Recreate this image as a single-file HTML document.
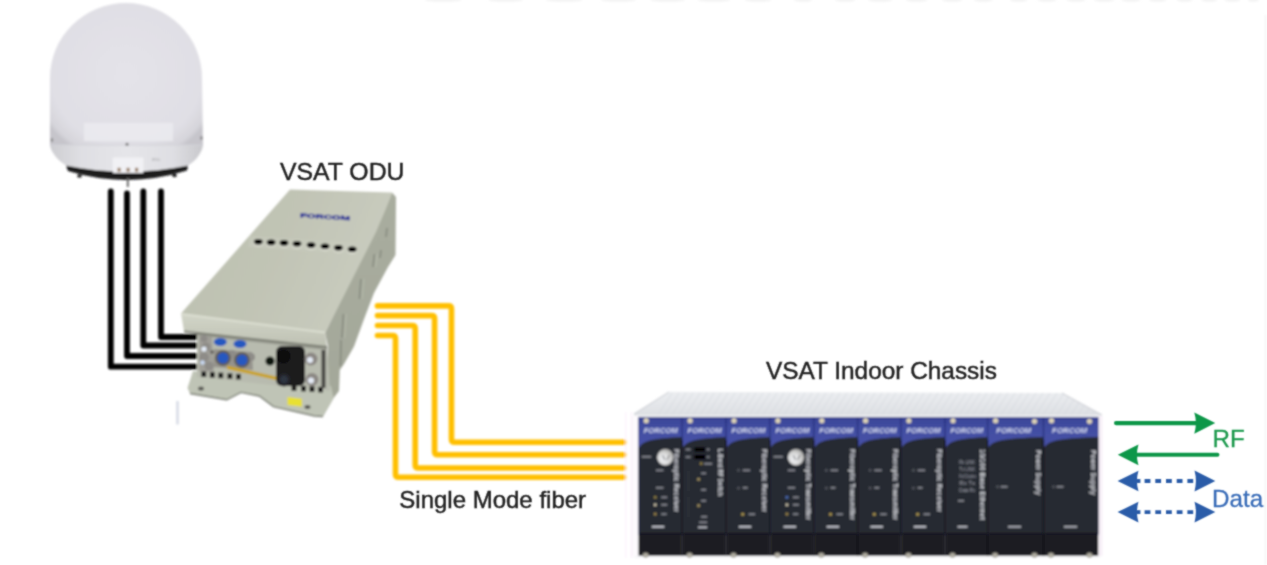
<!DOCTYPE html>
<html><head><meta charset="utf-8"><style>
html,body{margin:0;padding:0;background:#fff;}
body{width:1267px;height:565px;overflow:hidden;font-family:"Liberation Sans",sans-serif;}
svg{display:block;}
</style></head><body>
<svg width="1267" height="565" viewBox="0 0 1267 565">
<defs>
<radialGradient id="domeG" cx="0.5" cy="0.5" r="0.62">
 <stop offset="0" stop-color="#e4e3e9"/>
 <stop offset="0.8" stop-color="#e0dfe5"/>
 <stop offset="0.95" stop-color="#d6d5db"/>
 <stop offset="1" stop-color="#c6c5cb"/>
</radialGradient>
<linearGradient id="bandG" x1="0" y1="0" x2="1" y2="0">
 <stop offset="0" stop-color="#cdcdd1"/>
 <stop offset="0.2" stop-color="#dfdfe3"/>
 <stop offset="0.5" stop-color="#e5e5e9"/>
 <stop offset="0.8" stop-color="#dfdfe3"/>
 <stop offset="1" stop-color="#c8c8cc"/>
</linearGradient>
<linearGradient id="silverG" x1="0" y1="0" x2="0" y2="1">
 <stop offset="0" stop-color="#eceef1"/>
 <stop offset="1" stop-color="#dcdee2"/>
</linearGradient>
<linearGradient id="blueG" x1="0" y1="0" x2="0" y2="1">
 <stop offset="0" stop-color="#394496"/>
 <stop offset="0.3" stop-color="#424ea2"/>
 <stop offset="1" stop-color="#4852a8"/>
</linearGradient>
<linearGradient id="odT" x1="0" y1="0.3" x2="1" y2="0.6">
 <stop offset="0" stop-color="#bdc1b1"/>
 <stop offset="0.45" stop-color="#c1c4b5"/>
 <stop offset="1" stop-color="#cacdc0"/>
</linearGradient>
<linearGradient id="odR" x1="0" y1="0" x2="0" y2="1">
 <stop offset="0" stop-color="#a9ad9f"/>
 <stop offset="1" stop-color="#a3a799"/>
</linearGradient>
<linearGradient id="lidF" x1="0" y1="0" x2="0" y2="1">
 <stop offset="0" stop-color="#d2d5c8"/>
 <stop offset="1" stop-color="#bec1b3"/>
</linearGradient>
<clipPath id="topClip"><path d="M669,391.7 L1062,393 L1102,415 L1102,417 L634,417 L634,413.7 Z"/></clipPath>
<radialGradient id="knobG" cx="0.4" cy="0.6" r="0.6">
 <stop offset="0" stop-color="#f4f6fa"/>
 <stop offset="0.6" stop-color="#d8d8d8"/>
 <stop offset="1" stop-color="#a8a8a6"/>
</radialGradient>
<filter id="soft" x="0" y="0" width="100%" height="100%" filterUnits="userSpaceOnUse"><feConvolveMatrix order="3" kernelMatrix="1 2 1 2 8 2 1 2 1" divisor="20" edgeMode="none"/></filter>
<filter id="soft2" x="0" y="0" width="100%" height="100%" filterUnits="userSpaceOnUse"><feGaussianBlur stdDeviation="0.8"/></filter>
</defs>
<rect width="1267" height="565" fill="#fff"/>
<g filter="url(#soft2)">
<ellipse cx="443.1" cy="0" rx="18.5" ry="1.8" fill="#f3f3f3"/>
<ellipse cx="505.65" cy="0" rx="17.450000000000017" ry="1.8" fill="#f3f3f3"/>
<ellipse cx="564.1500000000001" cy="0" rx="18.44999999999999" ry="1.8" fill="#f3f3f3"/>
<ellipse cx="618.5" cy="0" rx="17.5" ry="1.8" fill="#f3f3f3"/>
<ellipse cx="667.75" cy="0" rx="17.450000000000045" ry="1.8" fill="#f3f3f3"/>
<ellipse cx="713.9" cy="0" rx="16.399999999999977" ry="1.8" fill="#f3f3f3"/>
<ellipse cx="758.05" cy="0" rx="13.349999999999966" ry="1.8" fill="#f3f3f3"/>
<ellipse cx="803.2" cy="0" rx="9.199999999999989" ry="1.8" fill="#f3f3f3"/>
<ellipse cx="845.25" cy="0" rx="10.25" ry="1.8" fill="#f3f3f3"/>
<ellipse cx="880.0999999999999" cy="0" rx="12.300000000000011" ry="1.8" fill="#f3f3f3"/>
<ellipse cx="916.65" cy="0" rx="10.850000000000023" ry="1.8" fill="#f3f3f3"/>
<ellipse cx="952.15" cy="0" rx="10.149999999999977" ry="1.8" fill="#f3f3f3"/>
<ellipse cx="983.3" cy="0" rx="9.400000000000034" ry="1.8" fill="#f3f3f3"/>
<ellipse cx="1018.75" cy="0" rx="8.75" ry="1.8" fill="#f3f3f3"/>
<ellipse cx="1047.0" cy="0" rx="9.400000000000091" ry="1.8" fill="#f3f3f3"/>
<ellipse cx="1076.0" cy="0" rx="9.400000000000091" ry="1.8" fill="#f3f3f3"/>
<ellipse cx="1104.2" cy="0" rx="10.200000000000045" ry="1.8" fill="#f3f3f3"/>
<ellipse cx="1131.0" cy="0" rx="9.400000000000091" ry="1.8" fill="#f3f3f3"/>
<ellipse cx="1157.75" cy="0" rx="8.75" ry="1.8" fill="#f3f3f3"/>
<ellipse cx="1184.65" cy="0" rx="7.949999999999932" ry="1.8" fill="#f3f3f3"/>
<ellipse cx="1209.25" cy="0" rx="7.9500000000000455" ry="1.8" fill="#f3f3f3"/>
<ellipse cx="1232.45" cy="0" rx="7.9500000000000455" ry="1.8" fill="#f3f3f3"/>
<ellipse cx="1253.3" cy="0" rx="5.7000000000000455" ry="1.8" fill="#f3f3f3"/>
<line x1="1265.6" y1="15" x2="1265.6" y2="565" stroke="#efefef" stroke-width="1"/>
<line x1="177.5" y1="401" x2="177.5" y2="424.5" stroke="#d8dce6" stroke-width="2.6"/>
<path d="M50,146 L50,78 A76,75 0 0 1 202,78 L203,146 Z" fill="url(#domeG)"/>
<path d="M50,145 L203,145 C202,152 197,160 188,165.5 Q127,178 66,165.5 C57,160 51,152 50,145 Z" fill="url(#bandG)"/>
<path d="M51,145 L202,145" stroke="#d2d2d8" stroke-width="1"/>
<rect x="84" y="123" width="89" height="18" fill="#ececf0" opacity="0.75"/>
<path d="M66,165.5 Q127,178 188,165.5 L187,170.5 Q127,189 68,171 Z" fill="#1a1a1c"/>
<ellipse cx="79.5" cy="176" rx="2.4" ry="1.8" fill="#222"/>
<ellipse cx="174.5" cy="175.5" rx="2.4" ry="1.8" fill="#222"/>
<rect x="112.7" y="157.6" width="30.8" height="15.4" rx="1" fill="#f1f1f4"/>
<rect x="117.5" y="167.8" width="3.2" height="4" fill="#9a8068"/>
<rect x="126.5" y="167.8" width="3.2" height="4" fill="#9a8068"/>
<rect x="135.0" y="167.8" width="3.2" height="4" fill="#9a8068"/>
<circle cx="127" cy="144.3" r="1.5" fill="#707070"/>
<ellipse cx="52" cy="140" rx="1.2" ry="2" fill="#888"/>
<ellipse cx="201.4" cy="138" rx="1.2" ry="2" fill="#888"/>
<text x="152" y="160.5" font-family="Liberation Sans" font-size="4" fill="#a0a0a4">IFDL</text>
<rect x="126.8" y="178" width="2" height="9" fill="#6a6a6a"/>
<path d="M110.8,191.5 V366.7 H201" fill="none" stroke="#000" stroke-width="5.8" stroke-linecap="round" stroke-linejoin="round"/>
<path d="M127,193.5 V356 H201" fill="none" stroke="#000" stroke-width="5.8" stroke-linecap="round" stroke-linejoin="round"/>
<path d="M143.3,191.5 V345.5 H201" fill="none" stroke="#000" stroke-width="5.8" stroke-linecap="round" stroke-linejoin="round"/>
<path d="M161,191.5 V337 H201" fill="none" stroke="#000" stroke-width="5.8" stroke-linecap="round" stroke-linejoin="round"/>
<path d="M377.5,305.9 H448.5 Q451.5,305.9 451.5,308.9 V439.3 Q451.5,442.3 454.5,442.3 H624" fill="none" stroke="#ffbf00" stroke-width="5.6" stroke-linecap="round"/>
<path d="M377.5,315.6 H431.6 Q434.6,315.6 434.6,318.6 V451.7 Q434.6,454.7 437.6,454.7 H624" fill="none" stroke="#ffbf00" stroke-width="5.6" stroke-linecap="round"/>
<path d="M377.5,325.5 H412.2 Q415.2,325.5 415.2,328.5 V465 Q415.2,468 418.2,468 H624" fill="none" stroke="#ffbf00" stroke-width="5.6" stroke-linecap="round"/>
<path d="M377.5,335.5 H392.5 Q395.5,335.5 395.5,338.5 V474.2 Q395.5,477.2 398.5,477.2 H624" fill="none" stroke="#ffbf00" stroke-width="5.6" stroke-linecap="round"/>
<path d="M392,192.5 L396,197 L395.5,255 L388,267 L374,293 L363.7,320 L354,346.5 L344,364 L339.8,370 L339,391 L333.6,398 L323,416.5 L316,416 L326,400 L328,346 L325,333 Z" fill="url(#odR)"/>
<path d="M387,228 L386,237 M381,250 L380,258 M374.5,254 L373,267 M361,279 L359.5,299 M343.5,314 L342,338 M341,340 L340.5,366" stroke="#84887c" stroke-width="1.8" fill="none" opacity="0.85"/>
<path d="M377,254 L375.5,267 M363.5,279 L362,299 M346,314 L344.5,338" stroke="#bcc0b2" stroke-width="1" fill="none" opacity="0.8"/>
<path d="M193,371 L331,386 L333.6,398 L323,416.5 L314.5,416 L273.5,406.6 L259.3,396 L241,392.4 L226.7,399.8 L190,393.5 L187.5,388 Z" fill="#bfc4b6"/>
<path d="M190,393.5 L226.7,399.8 L241,392.4 L259.3,396 L273.5,406.6 L314.5,416 L323,416.5" fill="none" stroke="#7a7e74" stroke-width="1.4"/>
<path d="M197,331 L327,345 L330,391 L197,377 Z" fill="#b8bbaf"/>
<path d="M181,313.5 L325,332 L327,346.5 L184,331 Z" fill="url(#lidF)"/>
<path d="M196,334 L327,348.5" stroke="#8a8c82" stroke-width="3" opacity="0.7"/>
<path d="M184,331.5 L327,347" stroke="#7e8076" stroke-width="1.8"/>
<path d="M290,189.5 L392,192.5 C388,205 380,222 376,232 L325,333 L181,313.5 Z" fill="url(#odT)"/>
<path d="M181.5,314 L325,332.5" stroke="#dcdfd2" stroke-width="1.8"/>
<path d="M250,236 L362,243 L358,254 L248,247 Z" fill="#c8ccbe" opacity="0.6"/>
<ellipse cx="258.3" cy="243.29999999999998" rx="5.2" ry="3.6" fill="#d4d6ca"/>
<ellipse cx="258.3" cy="241.7" rx="4.4" ry="2.8" fill="#060606"/>
<ellipse cx="271.1" cy="244.0" rx="5.2" ry="3.6" fill="#d4d6ca"/>
<ellipse cx="271.1" cy="242.4" rx="4.4" ry="2.8" fill="#060606"/>
<ellipse cx="284" cy="244.5" rx="5.2" ry="3.6" fill="#d4d6ca"/>
<ellipse cx="284" cy="242.9" rx="4.4" ry="2.8" fill="#060606"/>
<ellipse cx="297" cy="245.4" rx="5.2" ry="3.6" fill="#d4d6ca"/>
<ellipse cx="297" cy="243.8" rx="4.4" ry="2.8" fill="#060606"/>
<ellipse cx="311.1" cy="246.7" rx="5.2" ry="3.6" fill="#d4d6ca"/>
<ellipse cx="311.1" cy="245.1" rx="4.4" ry="2.8" fill="#060606"/>
<ellipse cx="325" cy="247.79999999999998" rx="5.2" ry="3.6" fill="#d4d6ca"/>
<ellipse cx="325" cy="246.2" rx="4.4" ry="2.8" fill="#060606"/>
<ellipse cx="338.4" cy="249.4" rx="5.2" ry="3.6" fill="#d4d6ca"/>
<ellipse cx="338.4" cy="247.8" rx="4.4" ry="2.8" fill="#060606"/>
<ellipse cx="352.2" cy="250.79999999999998" rx="5.2" ry="3.6" fill="#d4d6ca"/>
<ellipse cx="352.2" cy="249.2" rx="4.4" ry="2.8" fill="#060606"/>
<text x="300" y="217.3" font-family="Liberation Sans" font-weight="bold" font-size="5.8" fill="#262e96" stroke="#262e96" stroke-width="0.35" transform="rotate(3.5 300 217.3)" textLength="50" lengthAdjust="spacingAndGlyphs">FORCOM</text>
<path d="M214,349 L252,352 L253,370 L213,367 Z" fill="#8e8c86" opacity="0.85"/>
<path d="M199,336 L212,337 L214,372 L199,371 Z" fill="#9a9892" opacity="0.8"/>
<ellipse cx="220.3" cy="342" rx="6.5" ry="4" fill="#2658c0"/>
<ellipse cx="240" cy="344" rx="6.5" ry="4" fill="#2658c0"/>
<circle cx="204" cy="338.5" r="3.5" fill="#8e8c88"/>
<circle cx="206" cy="347" r="4.5" fill="#8e8c88"/>
<circle cx="204" cy="357.5" r="5" fill="#8e8c88"/>
<circle cx="209" cy="366" r="4.5" fill="#8e8c88"/>
<circle cx="232" cy="354" r="4" fill="#8e8c88"/>
<circle cx="251" cy="357" r="4" fill="#8e8c88"/>
<circle cx="204" cy="349" r="2.6" fill="#e4ecf8"/>
<circle cx="202.5" cy="362.5" r="2.2" fill="#c8d8f0"/>
<circle cx="212" cy="352" r="2" fill="#6a6862"/>
<circle cx="223" cy="358" r="7.8" fill="#5e5c56"/>
<circle cx="223" cy="358" r="5.6" fill="#2658c0"/>
<circle cx="242" cy="360" r="7.8" fill="#5e5c56"/>
<circle cx="242" cy="360" r="5.6" fill="#2658c0"/>
<path d="M227,365.5 L276,376.5 L276,380 L227,369 Z" fill="#c9a326"/>
<rect x="201.4" y="371.5" width="4.8" height="5.5" fill="#151515"/>
<rect x="209.9" y="372.095" width="4.8" height="5.5" fill="#151515"/>
<rect x="218.4" y="372.69" width="4.8" height="5.5" fill="#151515"/>
<rect x="227.5" y="373.327" width="4.8" height="5.5" fill="#151515"/>
<rect x="236.0" y="373.922" width="4.8" height="5.5" fill="#151515"/>
<rect x="291.6" y="385.3" width="4.8" height="5.5" fill="#151515"/>
<rect x="301.20000000000005" y="385.87600000000003" width="4.8" height="5.5" fill="#151515"/>
<rect x="309.6" y="386.38" width="4.8" height="5.5" fill="#151515"/>
<rect x="318.20000000000005" y="386.896" width="4.8" height="5.5" fill="#151515"/>
<circle cx="270" cy="361" r="4.6" fill="#0c140e"/>
<rect x="276" y="346" width="29" height="40" rx="6" fill="#1a1a1c"/>
<circle cx="283.5" cy="356.5" r="7" fill="#0e0e10"/>
<circle cx="284" cy="379.5" r="7" fill="#202226"/>
<circle cx="284" cy="379.5" r="4" fill="#2e3440"/>
<circle cx="311" cy="359" r="6.5" fill="#8c8884"/>
<circle cx="310" cy="360" r="3" fill="#e4eaf4"/>
<circle cx="312" cy="379.5" r="6.5" fill="#8c8884"/>
<circle cx="311" cy="380.5" r="3" fill="#e4eaf4"/>
<rect x="321.5" y="350" width="4" height="38" fill="#4a4844"/>
<ellipse cx="201" cy="388.5" rx="3" ry="2" fill="#5a5a54"/>
<ellipse cx="307.5" cy="407" rx="3" ry="2" fill="#5a5a54"/>
<path d="M287.5,397 L301.8,398.8 L301.8,406.8 L287.5,405 Z" fill="#e8e030"/>
<path d="M669,391.7 L1062,393 L1102,415 L1102,417 L634,417 L634,413.7 Z" fill="url(#silverG)"/>
<g clip-path="url(#topClip)">
<line x1="672" y1="393" x2="658" y2="415" stroke="#d6d9de" stroke-width="0.8"/>
<line x1="679" y1="393" x2="665" y2="415" stroke="#d6d9de" stroke-width="0.8"/>
<line x1="686" y1="393" x2="672" y2="415" stroke="#d6d9de" stroke-width="0.8"/>
<line x1="693" y1="393" x2="679" y2="415" stroke="#d6d9de" stroke-width="0.8"/>
<line x1="700" y1="393" x2="686" y2="415" stroke="#d6d9de" stroke-width="0.8"/>
<line x1="707" y1="393" x2="693" y2="415" stroke="#d6d9de" stroke-width="0.8"/>
<line x1="714" y1="393" x2="700" y2="415" stroke="#d6d9de" stroke-width="0.8"/>
<line x1="721" y1="393" x2="707" y2="415" stroke="#d6d9de" stroke-width="0.8"/>
<line x1="728" y1="393" x2="714" y2="415" stroke="#d6d9de" stroke-width="0.8"/>
<line x1="735" y1="393" x2="721" y2="415" stroke="#d6d9de" stroke-width="0.8"/>
<line x1="742" y1="393" x2="728" y2="415" stroke="#d6d9de" stroke-width="0.8"/>
<line x1="749" y1="393" x2="735" y2="415" stroke="#d6d9de" stroke-width="0.8"/>
<line x1="756" y1="393" x2="742" y2="415" stroke="#d6d9de" stroke-width="0.8"/>
<line x1="763" y1="393" x2="749" y2="415" stroke="#d6d9de" stroke-width="0.8"/>
<line x1="770" y1="393" x2="756" y2="415" stroke="#d6d9de" stroke-width="0.8"/>
<line x1="777" y1="393" x2="763" y2="415" stroke="#d6d9de" stroke-width="0.8"/>
<line x1="784" y1="393" x2="770" y2="415" stroke="#d6d9de" stroke-width="0.8"/>
<line x1="791" y1="393" x2="777" y2="415" stroke="#d6d9de" stroke-width="0.8"/>
<line x1="798" y1="393" x2="784" y2="415" stroke="#d6d9de" stroke-width="0.8"/>
<line x1="805" y1="393" x2="791" y2="415" stroke="#d6d9de" stroke-width="0.8"/>
<line x1="812" y1="393" x2="798" y2="415" stroke="#d6d9de" stroke-width="0.8"/>
<line x1="819" y1="393" x2="805" y2="415" stroke="#d6d9de" stroke-width="0.8"/>
<line x1="826" y1="393" x2="812" y2="415" stroke="#d6d9de" stroke-width="0.8"/>
<line x1="833" y1="393" x2="819" y2="415" stroke="#d6d9de" stroke-width="0.8"/>
<line x1="840" y1="393" x2="826" y2="415" stroke="#d6d9de" stroke-width="0.8"/>
<line x1="847" y1="393" x2="833" y2="415" stroke="#d6d9de" stroke-width="0.8"/>
<line x1="854" y1="393" x2="840" y2="415" stroke="#d6d9de" stroke-width="0.8"/>
<line x1="861" y1="393" x2="847" y2="415" stroke="#d6d9de" stroke-width="0.8"/>
<line x1="868" y1="393" x2="854" y2="415" stroke="#d6d9de" stroke-width="0.8"/>
<line x1="875" y1="393" x2="861" y2="415" stroke="#d6d9de" stroke-width="0.8"/>
<line x1="882" y1="393" x2="868" y2="415" stroke="#d6d9de" stroke-width="0.8"/>
<line x1="889" y1="393" x2="875" y2="415" stroke="#d6d9de" stroke-width="0.8"/>
<line x1="896" y1="393" x2="882" y2="415" stroke="#d6d9de" stroke-width="0.8"/>
<line x1="903" y1="393" x2="889" y2="415" stroke="#d6d9de" stroke-width="0.8"/>
<line x1="910" y1="393" x2="896" y2="415" stroke="#d6d9de" stroke-width="0.8"/>
<line x1="917" y1="393" x2="903" y2="415" stroke="#d6d9de" stroke-width="0.8"/>
<line x1="924" y1="393" x2="910" y2="415" stroke="#d6d9de" stroke-width="0.8"/>
<line x1="931" y1="393" x2="917" y2="415" stroke="#d6d9de" stroke-width="0.8"/>
<line x1="938" y1="393" x2="924" y2="415" stroke="#d6d9de" stroke-width="0.8"/>
<line x1="945" y1="393" x2="931" y2="415" stroke="#d6d9de" stroke-width="0.8"/>
<line x1="952" y1="393" x2="938" y2="415" stroke="#d6d9de" stroke-width="0.8"/>
<line x1="959" y1="393" x2="945" y2="415" stroke="#d6d9de" stroke-width="0.8"/>
<line x1="966" y1="393" x2="952" y2="415" stroke="#d6d9de" stroke-width="0.8"/>
<line x1="973" y1="393" x2="959" y2="415" stroke="#d6d9de" stroke-width="0.8"/>
<line x1="980" y1="393" x2="966" y2="415" stroke="#d6d9de" stroke-width="0.8"/>
<line x1="987" y1="393" x2="973" y2="415" stroke="#d6d9de" stroke-width="0.8"/>
<line x1="994" y1="393" x2="980" y2="415" stroke="#d6d9de" stroke-width="0.8"/>
<line x1="1001" y1="393" x2="987" y2="415" stroke="#d6d9de" stroke-width="0.8"/>
<line x1="1008" y1="393" x2="994" y2="415" stroke="#d6d9de" stroke-width="0.8"/>
<line x1="1015" y1="393" x2="1001" y2="415" stroke="#d6d9de" stroke-width="0.8"/>
<line x1="1022" y1="393" x2="1008" y2="415" stroke="#d6d9de" stroke-width="0.8"/>
<line x1="1029" y1="393" x2="1015" y2="415" stroke="#d6d9de" stroke-width="0.8"/>
<line x1="1036" y1="393" x2="1022" y2="415" stroke="#d6d9de" stroke-width="0.8"/>
<line x1="1043" y1="393" x2="1029" y2="415" stroke="#d6d9de" stroke-width="0.8"/>
<line x1="1050" y1="393" x2="1036" y2="415" stroke="#d6d9de" stroke-width="0.8"/>
<line x1="1057" y1="393" x2="1043" y2="415" stroke="#d6d9de" stroke-width="0.8"/>
<line x1="1064" y1="393" x2="1050" y2="415" stroke="#d6d9de" stroke-width="0.8"/>
<line x1="1071" y1="393" x2="1057" y2="415" stroke="#d6d9de" stroke-width="0.8"/>
<line x1="1078" y1="393" x2="1064" y2="415" stroke="#d6d9de" stroke-width="0.8"/>
<line x1="1085" y1="393" x2="1071" y2="415" stroke="#d6d9de" stroke-width="0.8"/>
<line x1="1092" y1="393" x2="1078" y2="415" stroke="#d6d9de" stroke-width="0.8"/>
<line x1="1099" y1="393" x2="1085" y2="415" stroke="#d6d9de" stroke-width="0.8"/>
<line x1="1106" y1="393" x2="1092" y2="415" stroke="#d6d9de" stroke-width="0.8"/>
<line x1="1113" y1="393" x2="1099" y2="415" stroke="#d6d9de" stroke-width="0.8"/>
<line x1="1120" y1="393" x2="1106" y2="415" stroke="#d6d9de" stroke-width="0.8"/>
</g>
<line x1="634" y1="415.8" x2="1102" y2="415.8" stroke="#f4f5f7" stroke-width="1.2"/>
<line x1="669" y1="392" x2="634" y2="414" stroke="#c8cad0" stroke-width="1"/>
<line x1="1062" y1="393" x2="1102" y2="415" stroke="#c8cad0" stroke-width="1"/>
<rect x="631" y="416" width="7.5" height="140" fill="#fdfafd"/>
<line x1="625.8" y1="412" x2="625.8" y2="558" stroke="#fbeefb" stroke-width="1"/>
<line x1="631.5" y1="412" x2="631.5" y2="558" stroke="#f8eaf8" stroke-width="1"/>
<line x1="634" y1="557" x2="1100" y2="557" stroke="#ececf0" stroke-width="1.2"/>
<rect x="1098.5" y="416" width="4" height="140" fill="#f8f0f8"/>
<rect x="638.2" y="417" width="460.3" height="118" fill="#202a78"/>
<rect x="638.8000000000001" y="417.3" width="42.699999999999974" height="35" fill="url(#blueG)"/>
<path d="M638.7,448.5 C642.2,440.5 652.2,438.5 682.1,437 L682.1,534 L638.7,534 Z" fill="#262933"/>
<text x="643.7" y="433.2" font-family="Liberation Sans" font-weight="bold" font-style="italic" font-size="6.6" fill="#d4d9f0" textLength="33.9" lengthAdjust="spacingAndGlyphs">FORCOM</text>
<circle cx="646.2" cy="420.7" r="2.6" fill="#ddd3b6"/>
<rect x="638.5" y="534.3" width="43.299999999999976" height="21.4" fill="#1d1e23"/>
<line x1="639.2" y1="533.8" x2="681.1" y2="533.8" stroke="#101115" stroke-width="1.6"/>
<ellipse cx="645.7" cy="555" rx="2.8" ry="2.2" fill="#b4b0a4" stroke="#7a7870" stroke-width="0.6"/>
<rect x="682.7" y="417.3" width="42.699999999999974" height="35" fill="url(#blueG)"/>
<path d="M682.6,448.5 C686.1,440.5 696.1,438.5 726,437 L726,534 L682.6,534 Z" fill="#262933"/>
<text x="687.6" y="433.2" font-family="Liberation Sans" font-weight="bold" font-style="italic" font-size="6.6" fill="#d4d9f0" textLength="33.9" lengthAdjust="spacingAndGlyphs">FORCOM</text>
<circle cx="690.1" cy="420.7" r="2.6" fill="#ddd3b6"/>
<rect x="682.4" y="534.3" width="43.299999999999976" height="21.4" fill="#1d1e23"/>
<line x1="683.1" y1="533.8" x2="725" y2="533.8" stroke="#101115" stroke-width="1.6"/>
<ellipse cx="689.6" cy="555" rx="2.8" ry="2.2" fill="#b4b0a4" stroke="#7a7870" stroke-width="0.6"/>
<rect x="726.6" y="417.3" width="42.699999999999974" height="35" fill="url(#blueG)"/>
<path d="M726.5,448.5 C730,440.5 740,438.5 769.9,437 L769.9,534 L726.5,534 Z" fill="#262933"/>
<text x="731.5" y="433.2" font-family="Liberation Sans" font-weight="bold" font-style="italic" font-size="6.6" fill="#d4d9f0" textLength="33.9" lengthAdjust="spacingAndGlyphs">FORCOM</text>
<circle cx="734" cy="420.7" r="2.6" fill="#ddd3b6"/>
<rect x="726.3" y="534.3" width="43.299999999999976" height="21.4" fill="#1d1e23"/>
<line x1="727" y1="533.8" x2="768.9" y2="533.8" stroke="#101115" stroke-width="1.6"/>
<ellipse cx="733.5" cy="555" rx="2.8" ry="2.2" fill="#b4b0a4" stroke="#7a7870" stroke-width="0.6"/>
<rect x="770.5" y="417.3" width="42.699999999999974" height="35" fill="url(#blueG)"/>
<path d="M770.4,448.5 C773.9,440.5 783.9,438.5 813.8,437 L813.8,534 L770.4,534 Z" fill="#262933"/>
<text x="775.4" y="433.2" font-family="Liberation Sans" font-weight="bold" font-style="italic" font-size="6.6" fill="#d4d9f0" textLength="33.9" lengthAdjust="spacingAndGlyphs">FORCOM</text>
<circle cx="777.9" cy="420.7" r="2.6" fill="#ddd3b6"/>
<rect x="770.1999999999999" y="534.3" width="43.299999999999976" height="21.4" fill="#1d1e23"/>
<line x1="770.9" y1="533.8" x2="812.8" y2="533.8" stroke="#101115" stroke-width="1.6"/>
<ellipse cx="777.4" cy="555" rx="2.8" ry="2.2" fill="#b4b0a4" stroke="#7a7870" stroke-width="0.6"/>
<rect x="814.4" y="417.3" width="42.600000000000065" height="35" fill="url(#blueG)"/>
<path d="M814.3,448.5 C817.8,440.5 827.8,438.5 857.6,437 L857.6,534 L814.3,534 Z" fill="#262933"/>
<text x="819.3" y="433.2" font-family="Liberation Sans" font-weight="bold" font-style="italic" font-size="6.6" fill="#d4d9f0" textLength="33.8" lengthAdjust="spacingAndGlyphs">FORCOM</text>
<circle cx="821.8" cy="420.7" r="2.6" fill="#ddd3b6"/>
<rect x="814.0999999999999" y="534.3" width="43.20000000000007" height="21.4" fill="#1d1e23"/>
<line x1="814.8" y1="533.8" x2="856.6" y2="533.8" stroke="#101115" stroke-width="1.6"/>
<ellipse cx="821.3" cy="555" rx="2.8" ry="2.2" fill="#b4b0a4" stroke="#7a7870" stroke-width="0.6"/>
<rect x="858.2" y="417.3" width="42.09999999999995" height="35" fill="url(#blueG)"/>
<path d="M858.1,448.5 C861.6,440.5 871.6,438.5 900.9,437 L900.9,534 L858.1,534 Z" fill="#262933"/>
<text x="863.1" y="433.2" font-family="Liberation Sans" font-weight="bold" font-style="italic" font-size="6.6" fill="#d4d9f0" textLength="33.3" lengthAdjust="spacingAndGlyphs">FORCOM</text>
<circle cx="865.6" cy="420.7" r="2.6" fill="#ddd3b6"/>
<rect x="857.9" y="534.3" width="42.69999999999995" height="21.4" fill="#1d1e23"/>
<line x1="858.6" y1="533.8" x2="899.9" y2="533.8" stroke="#101115" stroke-width="1.6"/>
<ellipse cx="865.1" cy="555" rx="2.8" ry="2.2" fill="#b4b0a4" stroke="#7a7870" stroke-width="0.6"/>
<rect x="901.5" y="417.3" width="42.90000000000002" height="35" fill="url(#blueG)"/>
<path d="M901.4,448.5 C904.9,440.5 914.9,438.5 945,437 L945,534 L901.4,534 Z" fill="#262933"/>
<text x="906.4" y="433.2" font-family="Liberation Sans" font-weight="bold" font-style="italic" font-size="6.6" fill="#d4d9f0" textLength="34.1" lengthAdjust="spacingAndGlyphs">FORCOM</text>
<circle cx="908.9" cy="420.7" r="2.6" fill="#ddd3b6"/>
<rect x="901.1999999999999" y="534.3" width="43.50000000000002" height="21.4" fill="#1d1e23"/>
<line x1="901.9" y1="533.8" x2="944" y2="533.8" stroke="#101115" stroke-width="1.6"/>
<ellipse cx="908.4" cy="555" rx="2.8" ry="2.2" fill="#b4b0a4" stroke="#7a7870" stroke-width="0.6"/>
<rect x="945.6" y="417.3" width="41.40000000000002" height="35" fill="url(#blueG)"/>
<path d="M945.5,448.5 C949,440.5 959,438.5 987.6,437 L987.6,534 L945.5,534 Z" fill="#262933"/>
<text x="950.5" y="433.2" font-family="Liberation Sans" font-weight="bold" font-style="italic" font-size="6.6" fill="#d4d9f0" textLength="32.6" lengthAdjust="spacingAndGlyphs">FORCOM</text>
<circle cx="953" cy="420.7" r="2.6" fill="#ddd3b6"/>
<rect x="945.3" y="534.3" width="42.00000000000002" height="21.4" fill="#1d1e23"/>
<line x1="946" y1="533.8" x2="986.6" y2="533.8" stroke="#101115" stroke-width="1.6"/>
<ellipse cx="952.5" cy="555" rx="2.8" ry="2.2" fill="#b4b0a4" stroke="#7a7870" stroke-width="0.6"/>
<rect x="988.2" y="417.3" width="54.699999999999974" height="35" fill="url(#blueG)"/>
<path d="M988.1,448.5 C991.6,440.5 1001.6,438.5 1043.5,437 L1043.5,534 L988.1,534 Z" fill="#262933"/>
<text x="996.2" y="433.2" font-family="Liberation Sans" font-weight="bold" font-style="italic" font-size="6.6" fill="#d4d9f0" textLength="35.0" lengthAdjust="spacingAndGlyphs">FORCOM</text>
<circle cx="995.6" cy="420.7" r="2.6" fill="#ddd3b6"/>
<circle cx="1034.5" cy="421.3" r="2.6" fill="#ddd3b6"/>
<rect x="987.9" y="534.3" width="55.299999999999976" height="21.4" fill="#1d1e23"/>
<line x1="988.6" y1="533.8" x2="1042.5" y2="533.8" stroke="#101115" stroke-width="1.6"/>
<ellipse cx="995.1" cy="555" rx="2.8" ry="2.2" fill="#b4b0a4" stroke="#7a7870" stroke-width="0.6"/>
<ellipse cx="1034.5" cy="555" rx="2.8" ry="2.2" fill="#b4b0a4" stroke="#7a7870" stroke-width="0.6"/>
<rect x="1044.1" y="417.3" width="53.8" height="35" fill="url(#blueG)"/>
<path d="M1044.0,448.5 C1047.5,440.5 1057.5,438.5 1098.5,437 L1098.5,534 L1044.0,534 Z" fill="#262933"/>
<text x="1052.1" y="433.2" font-family="Liberation Sans" font-weight="bold" font-style="italic" font-size="6.6" fill="#d4d9f0" textLength="35.0" lengthAdjust="spacingAndGlyphs">FORCOM</text>
<circle cx="1051.5" cy="420.7" r="2.6" fill="#ddd3b6"/>
<circle cx="1089.5" cy="421.3" r="2.6" fill="#ddd3b6"/>
<rect x="1043.8" y="534.3" width="54.4" height="21.4" fill="#1d1e23"/>
<line x1="1044.5" y1="533.8" x2="1097.5" y2="533.8" stroke="#101115" stroke-width="1.6"/>
<ellipse cx="1051.0" cy="555" rx="2.8" ry="2.2" fill="#b4b0a4" stroke="#7a7870" stroke-width="0.6"/>
<ellipse cx="1089.5" cy="555" rx="2.8" ry="2.2" fill="#b4b0a4" stroke="#7a7870" stroke-width="0.6"/>
<line x1="682.1" y1="440" x2="682.1" y2="556" stroke="#0e0e12" stroke-width="1.2"/>
<line x1="683.3000000000001" y1="446" x2="683.3000000000001" y2="534" stroke="#2c2d34" stroke-width="0.8"/>
<line x1="726" y1="440" x2="726" y2="556" stroke="#0e0e12" stroke-width="1.2"/>
<line x1="727.2" y1="446" x2="727.2" y2="534" stroke="#2c2d34" stroke-width="0.8"/>
<line x1="769.9" y1="440" x2="769.9" y2="556" stroke="#0e0e12" stroke-width="1.2"/>
<line x1="771.1" y1="446" x2="771.1" y2="534" stroke="#2c2d34" stroke-width="0.8"/>
<line x1="813.8" y1="440" x2="813.8" y2="556" stroke="#0e0e12" stroke-width="1.2"/>
<line x1="815.0" y1="446" x2="815.0" y2="534" stroke="#2c2d34" stroke-width="0.8"/>
<line x1="857.6" y1="440" x2="857.6" y2="556" stroke="#0e0e12" stroke-width="1.2"/>
<line x1="858.8000000000001" y1="446" x2="858.8000000000001" y2="534" stroke="#2c2d34" stroke-width="0.8"/>
<line x1="900.9" y1="440" x2="900.9" y2="556" stroke="#0e0e12" stroke-width="1.2"/>
<line x1="902.1" y1="446" x2="902.1" y2="534" stroke="#2c2d34" stroke-width="0.8"/>
<line x1="945" y1="440" x2="945" y2="556" stroke="#0e0e12" stroke-width="1.2"/>
<line x1="946.2" y1="446" x2="946.2" y2="534" stroke="#2c2d34" stroke-width="0.8"/>
<line x1="987.6" y1="440" x2="987.6" y2="556" stroke="#0e0e12" stroke-width="1.2"/>
<line x1="988.8000000000001" y1="446" x2="988.8000000000001" y2="534" stroke="#2c2d34" stroke-width="0.8"/>
<line x1="1043.5" y1="440" x2="1043.5" y2="556" stroke="#0e0e12" stroke-width="1.2"/>
<line x1="1044.7" y1="446" x2="1044.7" y2="534" stroke="#2c2d34" stroke-width="0.8"/>
<text x="674.2" y="449" transform="rotate(90 674.2 449)" font-family="Liberation Sans" font-weight="bold" font-size="6.6" fill="#dcdde2" textLength="63" lengthAdjust="spacingAndGlyphs">Fiberoptic Receiver</text>
<text x="718.1" y="449" transform="rotate(90 718.1 449)" font-family="Liberation Sans" font-weight="bold" font-size="6.6" fill="#dcdde2" textLength="47" lengthAdjust="spacingAndGlyphs">L-Band RF Switch</text>
<text x="762.0" y="449" transform="rotate(90 762.0 449)" font-family="Liberation Sans" font-weight="bold" font-size="6.6" fill="#dcdde2" textLength="63" lengthAdjust="spacingAndGlyphs">Fiberoptic Receiver</text>
<text x="805.9" y="449" transform="rotate(90 805.9 449)" font-family="Liberation Sans" font-weight="bold" font-size="6.6" fill="#dcdde2" textLength="71" lengthAdjust="spacingAndGlyphs">Fiberoptic Transmitter</text>
<text x="849.7" y="449" transform="rotate(90 849.7 449)" font-family="Liberation Sans" font-weight="bold" font-size="6.6" fill="#dcdde2" textLength="71" lengthAdjust="spacingAndGlyphs">Fiberoptic Transmitter</text>
<text x="893.0" y="449" transform="rotate(90 893.0 449)" font-family="Liberation Sans" font-weight="bold" font-size="6.6" fill="#dcdde2" textLength="71" lengthAdjust="spacingAndGlyphs">Fiberoptic Transmitter</text>
<text x="937.1" y="449" transform="rotate(90 937.1 449)" font-family="Liberation Sans" font-weight="bold" font-size="6.6" fill="#dcdde2" textLength="63" lengthAdjust="spacingAndGlyphs">Fiberoptic Receiver</text>
<text x="979.7" y="449" transform="rotate(90 979.7 449)" font-family="Liberation Sans" font-weight="bold" font-size="6.6" fill="#dcdde2" textLength="71" lengthAdjust="spacingAndGlyphs">10/100 Base Ethernet</text>
<text x="1035.6" y="450" transform="rotate(90 1035.6 450)" font-family="Liberation Sans" font-weight="bold" font-size="6.6" fill="#dcdde2" textLength="45" lengthAdjust="spacingAndGlyphs">Power Supply</text>
<text x="1090.6" y="450" transform="rotate(90 1090.6 450)" font-family="Liberation Sans" font-weight="bold" font-size="6.6" fill="#dcdde2" textLength="45" lengthAdjust="spacingAndGlyphs">Power Supply</text>
<circle cx="665.3" cy="457.2" r="8.2" fill="url(#knobG)"/>
<path d="M662.8,455.5 L664.8,460 M666.8,460 L669.3,455" fill="none" stroke="#8a8a8c" stroke-width="1.3"/>
<circle cx="796" cy="457.2" r="8.2" fill="url(#knobG)"/>
<path d="M793.5,455.5 L795.5,460 M797.5,460 L800,455" fill="none" stroke="#8a8a8c" stroke-width="1.3"/>
<rect x="641.7" y="456" width="9.5" height="1.6" fill="#8a8c94"/>
<rect x="656.0" y="469.5" width="7.5" height="1.6" fill="#8a8c94"/>
<rect x="656.0" y="487" width="7.5" height="1.6" fill="#8a8c94"/>
<circle cx="655.2" cy="497.2" r="1.5" fill="#8a7a40"/>
<rect x="661.2" y="496.5" width="6" height="1.6" fill="#8a8c94"/>
<circle cx="655.2" cy="504.8" r="1.5" fill="#c8c0a8"/>
<rect x="661.2" y="504" width="6" height="1.6" fill="#8a8c94"/>
<circle cx="655.2" cy="514" r="1.5" fill="#9a8448"/>
<rect x="661.2" y="513.3" width="5.5" height="1.6" fill="#8a8c94"/>
<rect x="651.8000000000001" y="526" width="12.5" height="1.6" fill="#d4d6de"/>
<rect x="773.4" y="456" width="9.5" height="1.6" fill="#8a8c94"/>
<rect x="787.6999999999999" y="469.5" width="7.5" height="1.6" fill="#8a8c94"/>
<rect x="787.6999999999999" y="487" width="7.5" height="1.6" fill="#8a8c94"/>
<circle cx="786.9" cy="497.2" r="1.5" fill="#4a6ab0"/>
<rect x="792.9" y="496.5" width="6" height="1.6" fill="#8a8c94"/>
<circle cx="786.9" cy="504.8" r="1.5" fill="#c8c0a8"/>
<rect x="792.9" y="504" width="6" height="1.6" fill="#8a8c94"/>
<circle cx="786.9" cy="514" r="1.5" fill="#9a8448"/>
<rect x="792.9" y="513.3" width="5.5" height="1.6" fill="#8a8c94"/>
<rect x="783.5" y="526" width="12.5" height="1.6" fill="#d4d6de"/>
<rect x="742.7" y="469.5" width="7.5" height="1.6" fill="#8a8c94"/>
<rect x="742.7" y="487" width="5" height="1.6" fill="#8a8c94"/>
<circle cx="738.5" cy="470.3" r="1.5" fill="#50525a"/>
<circle cx="738.5" cy="488" r="1.5" fill="#50525a"/>
<circle cx="742.7" cy="514.2" r="1.5" fill="#b09a50"/>
<rect x="748.6" y="513.4" width="6.5" height="1.6" fill="#8a8c94"/>
<rect x="738.8" y="526" width="12.5" height="1.6" fill="#d4d6de"/>
<rect x="830.5" y="469.5" width="7.5" height="1.6" fill="#8a8c94"/>
<rect x="830.5" y="487" width="5" height="1.6" fill="#8a8c94"/>
<circle cx="826.3" cy="470.3" r="1.5" fill="#50525a"/>
<circle cx="826.3" cy="488" r="1.5" fill="#50525a"/>
<circle cx="830.5" cy="514.2" r="1.5" fill="#b09a50"/>
<rect x="836.4" y="513.4" width="6.5" height="1.6" fill="#8a8c94"/>
<rect x="826.5999999999999" y="526" width="12.5" height="1.6" fill="#d4d6de"/>
<rect x="874.3000000000001" y="469.5" width="7.5" height="1.6" fill="#8a8c94"/>
<rect x="874.3000000000001" y="487" width="5" height="1.6" fill="#8a8c94"/>
<circle cx="870.1" cy="470.3" r="1.5" fill="#50525a"/>
<circle cx="870.1" cy="488" r="1.5" fill="#50525a"/>
<circle cx="874.3000000000001" cy="514.2" r="1.5" fill="#b09a50"/>
<rect x="880.2" y="513.4" width="6.5" height="1.6" fill="#8a8c94"/>
<rect x="870.4" y="526" width="12.5" height="1.6" fill="#d4d6de"/>
<rect x="917.6" y="469.5" width="7.5" height="1.6" fill="#8a8c94"/>
<rect x="917.6" y="487" width="5" height="1.6" fill="#8a8c94"/>
<circle cx="913.4" cy="470.3" r="1.5" fill="#50525a"/>
<circle cx="913.4" cy="488" r="1.5" fill="#50525a"/>
<circle cx="917.6" cy="514.2" r="1.5" fill="#b09a50"/>
<rect x="923.5" y="513.4" width="6.5" height="1.6" fill="#8a8c94"/>
<rect x="913.6999999999999" y="526" width="12.5" height="1.6" fill="#d4d6de"/>
<rect x="685.6" y="448.7" width="5" height="1.6" fill="#8a8c94"/>
<rect x="694.1" y="447.3" width="11" height="4.4" fill="#050506"/>
<rect x="706.6" y="448.7" width="3" height="1.6" fill="#8a8c94"/>
<rect x="685.6" y="456.2" width="5" height="1.6" fill="#8a8c94"/>
<rect x="694.1" y="454.8" width="11" height="4.4" fill="#050506"/>
<rect x="706.6" y="456.2" width="3" height="1.6" fill="#8a8c94"/>
<circle cx="701.1" cy="463.5" r="1.5" fill="#8a7a40"/>
<rect x="704.1" y="463" width="8" height="1.6" fill="#8a8c94"/>
<circle cx="698.6" cy="479.3" r="1.5" fill="#a09060"/>
<circle cx="698.6" cy="505.5" r="1.5" fill="#a09060"/>
<rect x="701.1" y="472.5" width="5" height="1.6" fill="#8a8c94"/>
<rect x="701.1" y="489" width="5" height="1.6" fill="#8a8c94"/>
<rect x="701.1" y="500" width="5" height="1.6" fill="#8a8c94"/>
<rect x="701.1" y="516" width="6" height="1.6" fill="#8a8c94"/>
<rect x="699.1" y="521.5" width="8" height="1.6" fill="#8a8c94"/>
<rect x="698.1" y="526.5" width="9" height="1.6" fill="#c4c6ce"/>
<path d="M688.1,471 V491 M688.1,497 V517" stroke="#3a3c44" stroke-width="0.8"/>
<text x="959.2" y="463.5" font-family="Liberation Sans" font-size="4.6" fill="#a4a6ae" textLength="16" lengthAdjust="spacingAndGlyphs">Rx LINK</text>
<text x="959.2" y="471.3" font-family="Liberation Sans" font-size="4.6" fill="#a4a6ae" textLength="16" lengthAdjust="spacingAndGlyphs">Tx LINK</text>
<text x="959.2" y="478.40000000000003" font-family="Liberation Sans" font-size="4.6" fill="#a4a6ae" textLength="17" lengthAdjust="spacingAndGlyphs">Full Duplex</text>
<text x="959.2" y="484.7" font-family="Liberation Sans" font-size="4.6" fill="#a4a6ae" textLength="16" lengthAdjust="spacingAndGlyphs">Rx Tx</text>
<text x="959.2" y="491.8" font-family="Liberation Sans" font-size="4.6" fill="#a4a6ae" textLength="16" lengthAdjust="spacingAndGlyphs">Data Rx</text>
<rect x="958" y="500" width="6" height="1.6" fill="#8a8c94"/>
<rect x="957.5" y="526" width="10" height="1.6" fill="#c4c6ce"/>
<circle cx="997.6" cy="486.7" r="1.5" fill="#50525a"/>
<rect x="1000.6" y="486" width="7" height="1.6" fill="#8a8c94"/>
<rect x="1008.1" y="526" width="13" height="1.6" fill="#b4b6be"/>
<circle cx="1053.5" cy="486.7" r="1.5" fill="#50525a"/>
<rect x="1056.5" y="486" width="7" height="1.6" fill="#8a8c94"/>
<rect x="1064.0" y="526" width="13" height="1.6" fill="#b4b6be"/>
</g>
<g filter="url(#soft)">
<line x1="1116" y1="423.1" x2="1198" y2="423.1" stroke="#0c9748" stroke-width="4.1" stroke-linecap="round"/>
<path d="M1215.2,423.1 L1194.3,412.4 Q1197.5,423.1 1194.3,433.7 Z" fill="#0c9748"/>
<line x1="1135" y1="454.8" x2="1217.4" y2="454.8" stroke="#0c9748" stroke-width="4.1" stroke-linecap="round"/>
<path d="M1117.8,454.8 L1138.5,444.4 Q1135.3,454.8 1138.5,465.3 Z" fill="#0c9748"/>
<line x1="1135" y1="481.0" x2="1140.4" y2="481.0" stroke="#2a5ba8" stroke-width="3.9"/>
<line x1="1144.6" y1="481.0" x2="1194.5" y2="481.0" stroke="#2a5ba8" stroke-width="3.9" stroke-dasharray="5.8 4.9"/>
<path d="M1117.6,481.0 L1138.5,470.7 Q1135.4,481.0 1138.5,491.3 Z" fill="#2a5ba8"/>
<path d="M1215.3,481.0 L1194.5,470.6 Q1197.3,481.0 1194.5,491.4 Z" fill="#2a5ba8"/>
<line x1="1135" y1="512.1" x2="1140.4" y2="512.1" stroke="#2a5ba8" stroke-width="3.9"/>
<line x1="1144.6" y1="512.1" x2="1194.5" y2="512.1" stroke="#2a5ba8" stroke-width="3.9" stroke-dasharray="5.8 4.9"/>
<path d="M1117.6,512.1 L1138.5,501.8 Q1135.4,512.1 1138.5,522.4 Z" fill="#2a5ba8"/>
<path d="M1215.3,512.1 L1194.5,501.70000000000005 Q1197.3,512.1 1194.5,522.5 Z" fill="#2a5ba8"/>
<text x="280" y="179.6" font-family="Liberation Sans, sans-serif" font-size="24.8" fill="#222" stroke="#222" stroke-width="0.45">VSAT ODU</text>
<text x="399.3" y="507.7" font-family="Liberation Sans, sans-serif" font-size="24.0" fill="#222" stroke="#222" stroke-width="0.45">Single Mode fiber</text>
<text x="766" y="379.2" font-family="Liberation Sans, sans-serif" font-size="24.4" fill="#222" stroke="#222" stroke-width="0.45">VSAT Indoor Chassis</text>
<text x="1212.5" y="446.6" font-family="Liberation Sans, sans-serif" font-size="24.2" fill="#1c9a4e" stroke="#1c9a4e" stroke-width="0.3">RF</text>
<text x="1212" y="507.2" font-family="Liberation Sans, sans-serif" font-size="24.2" fill="#3a6db8" stroke="#3a6db8" stroke-width="0.3">Data</text>
</g>
</svg>
</body></html>
